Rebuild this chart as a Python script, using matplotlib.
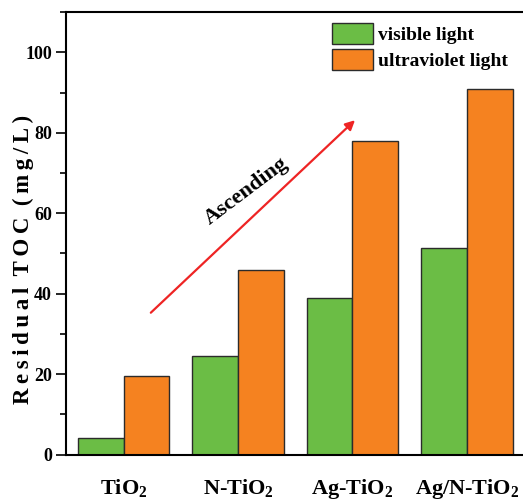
import matplotlib
matplotlib.use('Agg')
from matplotlib import pyplot as plt
from matplotlib.ticker import MultipleLocator
import numpy as np

samples = [r'$\mathbf{TiO_2}$', r'$\mathbf{N\text{-}TiO_2}$',
           r'$\mathbf{Ag\text{-}TiO_2}$', r'$\mathbf{Ag/N\text{-}TiO_2}$']
visible = [4.2, 24.5, 39.0, 51.3]
ultraviolet = [19.6, 45.8, 78.0, 90.9]

plt.rcParams['font.family'] = ['Liberation Serif', 'DejaVu Serif']
plt.rcParams['font.weight'] = 'bold'
plt.rcParams['mathtext.fontset'] = 'custom'
plt.rcParams['mathtext.rm'] = 'Liberation Serif:bold'
plt.rcParams['mathtext.bf'] = 'Liberation Serif:bold'
plt.rcParams['mathtext.it'] = 'Liberation Serif:bold'

fig = plt.figure(figsize=(5.23, 5.04), dpi=100)
ax = fig.add_axes([0.127, 0.098, 0.875, 0.878])

x = np.arange(len(samples))
width = 0.4
ax.bar(x - width/2, visible, width, color='#6bbd45', edgecolor='#2b2b2b',
       linewidth=1.0, label='visible light')
ax.bar(x + width/2, ultraviolet, width, color='#f58220', edgecolor='#2b2b2b',
       linewidth=1.0, label='ultraviolet light')

ax.set_xlim(-0.5, 3.5)
ax.set_ylim(0, 110)
ax.set_xticks(x)
ax.set_xticklabels(samples, fontsize=16)
ax.tick_params(axis='x', length=0, pad=16)
ax.yaxis.set_major_locator(MultipleLocator(20))
ax.yaxis.set_minor_locator(MultipleLocator(10))
ax.tick_params(axis='y', which='major', length=7, width=1.2, labelsize=13)
ax.tick_params(axis='y', which='minor', length=4, width=1.2)
for s in ['left', 'bottom', 'top', 'right']:
    ax.spines[s].set_linewidth(1.5)

sp = '\u2009'
ylab = sp.join('Residual') + '  ' + sp.join('TOC') + '  ' + sp.join('(mg/L)')
ax.set_ylabel(ylab, fontsize=16.5, fontweight='bold')
ax.yaxis.set_label_coords(-0.07, 0.442)

# trend arrow
ax.annotate('', xy=(2.04, 83.6), xytext=(0.22, 34.8),
            arrowprops=dict(arrowstyle='-|>', color='#ee2424', lw=1.6,
                            mutation_scale=14))
ax.text(1.07, 65.5, 'Ascending', fontsize=16, fontweight='bold',
        rotation=37, ha='center', va='center')

ax.legend(loc='upper right', bbox_to_anchor=(0.989, 1.0), frameon=False,
          fontsize=14, handlelength=2.1, handleheight=1.3, labelspacing=0.25,
          handletextpad=0.3, borderaxespad=0.15)

plt.savefig('out.png', dpi=100)
